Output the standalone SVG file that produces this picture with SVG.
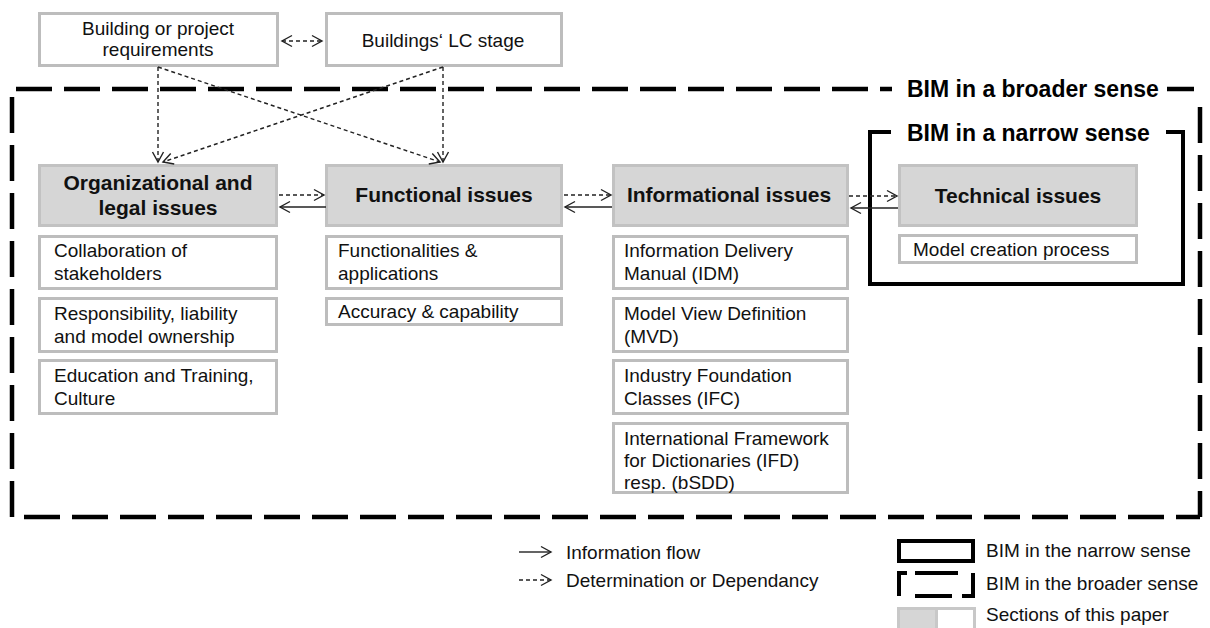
<svg xmlns="http://www.w3.org/2000/svg" width="1210" height="628" viewBox="0 0 1210 628">
<defs>
<marker id="ah" markerUnits="userSpaceOnUse" markerWidth="14" markerHeight="14" refX="11" refY="6" orient="auto-start-reverse" viewBox="0 0 14 12">
<path d="M1,0.5 L11,6 L1,11.5" fill="none" stroke="#222" stroke-width="1.4"/>
</marker>
</defs>
<style>
.main{fill:#d6d6d6;stroke:#c2c2c2;stroke-width:3}
.sub{fill:#fff;stroke:#bdbdbd;stroke-width:3}
.t{font-family:"Liberation Sans",Arial,sans-serif;font-size:19px;fill:#111}
.tc{text-anchor:middle}
.h{font-family:"Liberation Sans",Arial,sans-serif;font-size:21px;font-weight:bold;fill:#111;text-anchor:middle}
.big{font-family:"Liberation Sans",Arial,sans-serif;font-size:23px;font-weight:bold;fill:#000}
.dash{fill:none;stroke:#222;stroke-width:1.4;stroke-dasharray:4 3}
.solid{fill:none;stroke:#222;stroke-width:1.4}
.bframe{fill:none;stroke:#000;stroke-width:4.5;stroke-dasharray:36 12}
</style>
<rect width="1210" height="628" fill="#fff"/>

<g id="frames">
<path class="bframe" d="M892,89 H12 V517 H1200" stroke-dashoffset="24"/>
<path d="M1167,89 H1194" fill="none" stroke="#000" stroke-width="4.5"/>
<path class="bframe" d="M1200,107 V517"/>
<text class="big" x="907" y="97">BIM in a broader sense</text>
<path d="M891,132 H870 V284 H1183 V132 H1166" fill="none" stroke="#000" stroke-width="4"/>
<text class="big" x="907" y="141">BIM in a narrow sense</text>
</g>

<g id="req">
<rect class="sub" x="39.5" y="13.5" width="238" height="52"/>
<text class="t tc" x="158" y="35">Building or project</text>
<text class="t tc" x="158" y="56">requirements</text>
</g>
<g id="lcstage">
<rect class="sub" x="326.5" y="13.5" width="235" height="52"/>
<text class="t tc" x="443" y="47">Buildings‘ LC stage</text>
</g>

<g id="org">
<rect class="main" x="39.5" y="165.5" width="237" height="60"/>
<text class="h" x="158" y="190">Organizational and</text>
<text class="h" x="158" y="215">legal issues</text>
</g>
<g id="org-collab">
<rect class="sub" x="39.5" y="236.5" width="237" height="52"/>
<text class="t" x="54" y="257">Collaboration of</text>
<text class="t" x="54" y="280">stakeholders</text>
</g>
<g id="org-resp">
<rect class="sub" x="39.5" y="298.5" width="237" height="53"/>
<text class="t" x="54" y="320">Responsibility, liability</text>
<text class="t" x="54" y="343">and model ownership</text>
</g>
<g id="org-edu">
<rect class="sub" x="39.5" y="360.5" width="237" height="53"/>
<text class="t" x="54" y="382">Education and Training,</text>
<text class="t" x="54" y="405">Culture</text>
</g>

<g id="func">
<rect class="main" x="326.5" y="165.5" width="235" height="60"/>
<text class="h" x="444" y="202">Functional issues</text>
</g>
<g id="func-app">
<rect class="sub" x="326.5" y="236.5" width="235" height="52"/>
<text class="t" x="338" y="257">Functionalities &amp;</text>
<text class="t" x="338" y="280">applications</text>
</g>
<g id="func-acc">
<rect class="sub" x="326.5" y="298.5" width="235" height="26"/>
<text class="t" x="338" y="318">Accuracy &amp; capability</text>
</g>

<g id="info">
<rect class="main" x="613.5" y="165.5" width="234" height="60"/>
<text class="h" x="729" y="202">Informational issues</text>
</g>
<g id="info-idm">
<rect class="sub" x="613.5" y="236.5" width="234" height="52"/>
<text class="t" x="624" y="257">Information Delivery</text>
<text class="t" x="624" y="280">Manual (IDM)</text>
</g>
<g id="info-mvd">
<rect class="sub" x="613.5" y="298.5" width="234" height="53"/>
<text class="t" x="624" y="320">Model View Definition</text>
<text class="t" x="624" y="343">(MVD)</text>
</g>
<g id="info-ifc">
<rect class="sub" x="613.5" y="360.5" width="234" height="53"/>
<text class="t" x="624" y="382">Industry Foundation</text>
<text class="t" x="624" y="405">Classes (IFC)</text>
</g>
<g id="info-ifd">
<rect class="sub" x="613.5" y="423.5" width="234" height="69"/>
<text class="t" x="624" y="445">International Framework</text>
<text class="t" x="624" y="467">for Dictionaries (IFD)</text>
<text class="t" x="624" y="489">resp. (bSDD)</text>
</g>

<g id="tech">
<rect class="main" x="899.5" y="165.5" width="237" height="60"/>
<text class="h" x="1018" y="203">Technical issues</text>
</g>
<g id="tech-model">
<rect class="sub" x="899.5" y="235.5" width="237" height="27"/>
<text class="t" x="913" y="256">Model creation process</text>
</g>

<g id="connectors">
<line class="dash" x1="282" y1="41" x2="322" y2="41" marker-start="url(#ah)" marker-end="url(#ah)"/>
<line class="dash" x1="158" y1="67" x2="158" y2="162" marker-end="url(#ah)"/>
<line class="dash" x1="158" y1="67" x2="440" y2="162" marker-end="url(#ah)"/>
<line class="dash" x1="443" y1="67" x2="443" y2="162" marker-end="url(#ah)"/>
<line class="dash" x1="443" y1="67" x2="163" y2="162" marker-end="url(#ah)"/>
<line class="dash" x1="279" y1="195" x2="324" y2="195" marker-end="url(#ah)"/>
<line class="solid" x1="326" y1="207" x2="280" y2="207" marker-end="url(#ah)"/>
<line class="dash" x1="564" y1="195" x2="611" y2="195" marker-end="url(#ah)"/>
<line class="solid" x1="612" y1="207" x2="565" y2="207" marker-end="url(#ah)"/>
<line class="dash" x1="849" y1="196" x2="897" y2="196" marker-end="url(#ah)"/>
<line class="solid" x1="898" y1="208" x2="851" y2="208" marker-end="url(#ah)"/>
</g>

<g id="legend">
<line class="solid" x1="519" y1="552" x2="551" y2="552" marker-end="url(#ah)"/>
<text class="t" x="566" y="559">Information flow</text>
<line class="dash" x1="519" y1="580" x2="551" y2="580" marker-end="url(#ah)"/>
<text class="t" x="566" y="587">Determination or Dependancy</text>
<rect x="899" y="541" width="74" height="20" fill="#fff" stroke="#000" stroke-width="4"/>
<text class="t" x="986" y="557">BIM in the narrow sense</text>
<path d="M907,573 H899 V596 M915,573 H958 M915,596 H952 M962,596 H973 V573" fill="none" stroke="#000" stroke-width="4"/>
<text class="t" x="986" y="590">BIM in the broader sense</text>
<rect x="898.5" y="608.5" width="38" height="24" fill="#d6d6d6" stroke="#c8c8c8" stroke-width="3"/>
<rect x="936.5" y="608.5" width="38" height="24" fill="#fff" stroke="#c8c8c8" stroke-width="3"/>
<text class="t" x="986" y="621">Sections of this paper</text>
</g>
</svg>
